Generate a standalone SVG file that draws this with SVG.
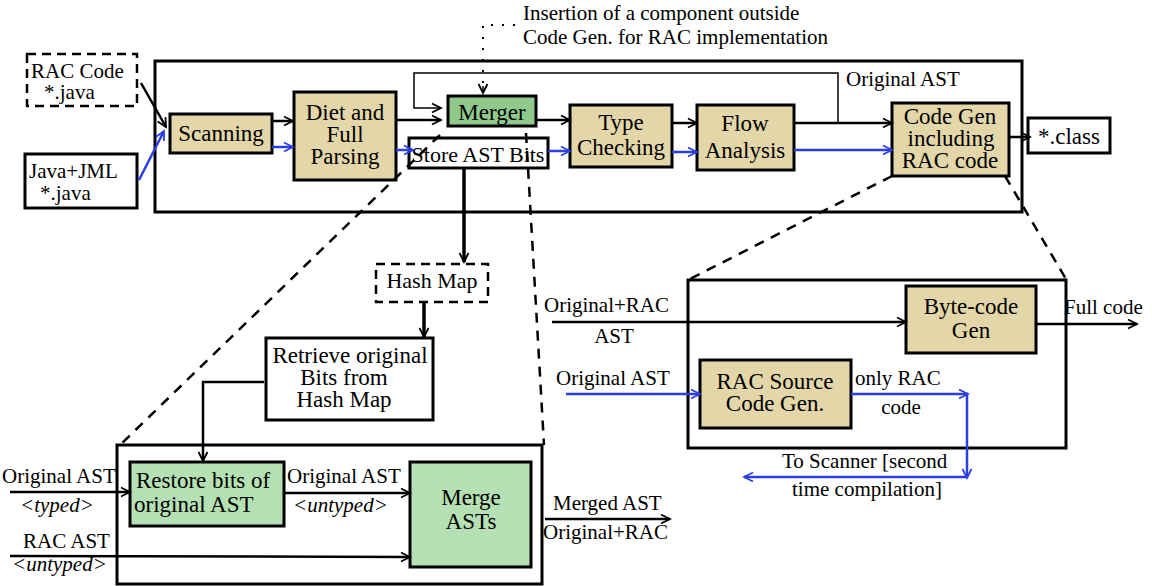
<svg xmlns="http://www.w3.org/2000/svg" width="1152" height="586" viewBox="0 0 1152 586" font-family="'Liberation Serif', 'DejaVu Serif', serif">
<style>
text{font-family:'Liberation Serif','DejaVu Serif',serif;fill:#000}
.n{font-size:23px}
.s{font-size:22px}
.l{font-size:21px}
.i{font-size:21px;font-style:italic}
.m{text-anchor:middle}
.box{fill:#fff;stroke:#000;stroke-width:3}
.tan{fill:#e3d7a9;stroke:#000;stroke-width:3}
.dg{fill:#8fc98b;stroke:#000;stroke-width:3}
.lg{fill:#b4e0b4;stroke:#000;stroke-width:3}
.dbox{fill:#fff;stroke:#000;stroke-width:2.5;stroke-dasharray:9 6}
.c{fill:none;stroke:#000;stroke-width:2.5}
.b{fill:none;stroke:#2b3fe6;stroke-width:2.5}
.thin{fill:none;stroke:#000;stroke-width:1.5}
.dash{fill:none;stroke:#000;stroke-width:2.5;stroke-dasharray:10 8}
.dot{fill:none;stroke:#000;stroke-width:2;stroke-dasharray:2 9}
</style>
<defs>
<marker id="ak" markerUnits="userSpaceOnUse" markerWidth="12" markerHeight="12" refX="10" refY="6" orient="auto"><path d="M1,1.5 L10,6 L1,10.5" fill="none" stroke="#000" stroke-width="1.8"/></marker>
<marker id="ab" markerUnits="userSpaceOnUse" markerWidth="12" markerHeight="12" refX="10" refY="6" orient="auto"><path d="M1,1.5 L10,6 L1,10.5" fill="none" stroke="#2b3fe6" stroke-width="1.8"/></marker>
</defs>
<rect width="1152" height="586" fill="#fff"/>

<g id="outer-top"><rect class="box" x="155" y="61" width="867" height="151"/></g>
<g id="rac-code"><rect class="dbox" x="27" y="54" width="110" height="52"/><text class="l" x="31" y="78">RAC Code</text><text class="l" x="44" y="99">*.java</text></g>
<g id="java-jml"><rect class="box" x="25" y="154" width="112" height="54"/><text class="l" x="29" y="178">Java+JML</text><text class="l" x="40" y="200">*.java</text></g>
<g id="scanning"><rect class="tan" x="170" y="114" width="102" height="39"/><text class="n m" x="221" y="141">Scanning</text></g>
<g id="parsing"><rect class="tan" x="294" y="92" width="102" height="88"/><text class="n m" x="345" y="120">Diet and</text><text class="n m" x="345" y="142">Full</text><text class="n m" x="345" y="164">Parsing</text></g>
<g id="merger"><rect class="dg" x="448" y="96" width="88" height="30"/><text class="n m" x="492" y="120">Merger</text></g>
<g id="store"><rect class="box" x="409" y="138" width="139" height="30"/><text class="s m" x="478" y="162">Store AST Bits</text></g>
<g id="type"><rect class="tan" x="570" y="105" width="102" height="62"/><text class="n m" x="621" y="130">Type</text><text class="n m" x="621" y="155">Checking</text></g>
<g id="flow"><rect class="tan" x="697" y="105" width="97" height="65"/><text class="n m" x="745" y="131">Flow</text><text class="n m" x="745" y="158">Analysis</text></g>
<g id="codegen"><rect class="tan" x="892" y="103" width="117" height="73"/><text class="n m" x="950" y="124">Code Gen</text><text class="n m" x="951" y="146">including</text><text class="n m" x="950" y="168">RAC code</text></g>
<g id="class"><rect class="box" x="1028" y="118" width="82" height="35"/><text class="n m" x="1069" y="144">*.class</text></g>
<g id="note"><text class="l" x="523" y="20">Insertion of a component outside</text><text class="l" x="523" y="44">Code Gen. for RAC implementation</text><text class="l" x="846" y="86">Original AST</text></g>

<g id="hashmap"><rect class="dbox" x="376" y="264" width="112" height="38"/><text class="s m" x="432" y="288">Hash Map</text></g>
<g id="retrieve"><rect class="box" x="266" y="338" width="167" height="82"/><text class="n m" x="350" y="363">Retrieve original</text><text class="n m" x="344" y="385">Bits from</text><text class="n m" x="344" y="407">Hash Map</text></g>

<g id="outer-merge"><rect class="box" x="117" y="445" width="425" height="139"/></g>
<g id="restore"><rect class="lg" x="130" y="462" width="154" height="64"/><text class="n" x="136" y="488">Restore bits of</text><text class="n" x="134" y="512">original AST</text></g>
<g id="mergeasts"><rect class="lg" x="410" y="462" width="121" height="105"/><text class="n m" x="471" y="505">Merge</text><text class="n m" x="471" y="529">ASTs</text></g>
<g id="merge-labels"><text class="l" x="2" y="483">Original AST</text><text class="i" x="20" y="512">&lt;typed&gt;</text><text class="l" x="23" y="548">RAC AST</text><text class="i" x="12" y="571">&lt;untyped&gt;</text><text class="l" x="287" y="483">Original AST</text><text class="i" x="293" y="512">&lt;untyped&gt;</text><text class="l" x="553" y="510">Merged AST</text><text class="l" x="543" y="539">Original+RAC</text></g>

<g id="outer-codegen"><rect class="box" x="688" y="280" width="378" height="168"/></g>
<g id="bytecode"><rect class="tan" x="906" y="286" width="130" height="67"/><text class="n m" x="971" y="314">Byte-code</text><text class="n m" x="971" y="338">Gen</text></g>
<g id="racsource"><rect class="tan" x="700" y="360" width="151" height="68"/><text class="n m" x="775" y="389">RAC Source</text><text class="n m" x="775" y="411">Code Gen.</text></g>
<g id="codegen-labels"><text class="l" x="544" y="312">Original+RAC</text><text class="l m" x="614" y="343">AST</text><text class="l" x="1064" y="314">Full code</text><text class="l" x="556" y="385">Original AST</text><text class="l" x="855" y="385">only RAC</text><text class="l m" x="901" y="414">code</text><text class="l" x="782" y="468">To Scanner [second</text><text class="l" x="792" y="496">time compilation]</text></g>

<g id="connectors">
<path class="c" d="M141,83 L166,127" marker-end="url(#ak)"/>
<path class="b" d="M139,180 L164,131" marker-end="url(#ab)"/>
<path class="c" d="M272,121 L293,121" marker-end="url(#ak)"/>
<path class="b" d="M272,147 L293,147" marker-end="url(#ab)"/>
<path class="c" d="M396,120 L441,120" marker-end="url(#ak)"/>
<path class="b" d="M396,150 L413,150" marker-end="url(#ab)"/>
<path class="c" d="M536,120 L570,120" marker-end="url(#ak)"/>
<path class="b" d="M548,151 L570,151" marker-end="url(#ab)"/>
<path class="c" d="M672,123 L697,123" marker-end="url(#ak)"/>
<path class="b" d="M672,152 L697,152" marker-end="url(#ab)"/>
<path class="c" d="M794,123 L892,123" marker-end="url(#ak)"/>
<path class="b" d="M794,150 L892,150" marker-end="url(#ab)"/>
<path class="c" d="M1009,137 L1030,137" marker-end="url(#ak)"/>
<path class="thin" d="M838,123 L838,73 L414,73 L414,108 L441,108" marker-end="url(#ak)"/>
<path class="dot" d="M515,25 L483,25 L483,93"/>
<path class="thin" d="M483,86 L483,93" marker-end="url(#ak)"/>
<path class="c" style="stroke-width:3.5" d="M464,168 L464,262" marker-end="url(#ak)"/>
<path class="c" style="stroke-width:3.5" d="M424,302 L424,337" marker-end="url(#ak)"/>
<path class="c" d="M264,382 L203,382 L203,461" marker-end="url(#ak)"/>
<path class="c" d="M10,492 L130,492" marker-end="url(#ak)"/>
<path class="c" d="M284,493 L410,493" marker-end="url(#ak)"/>
<path class="c" d="M10,556 L410,557" marker-end="url(#ak)"/>
<path class="c" d="M545,519 L670,519" marker-end="url(#ak)"/>
<path class="c" d="M552,322 L906,322" marker-end="url(#ak)"/>
<path class="c" d="M1036,324 L1137,324" marker-end="url(#ak)"/>
<path class="b" d="M566,394 L700,394" marker-end="url(#ab)"/>
<path class="b" d="M851,394 L968,394" marker-end="url(#ab)"/>
<path class="b" d="M967,394 L967,478" marker-end="url(#ab)"/>
<path class="b" d="M967,477 L744,477" marker-end="url(#ab)"/>
<path class="dash" d="M440,135 L120,445"/>
<path class="dash" d="M526,133 L544,445"/>
<path class="dash" d="M892,176 L690,279"/>
<path class="dash" d="M1005,176 L1066,279"/>
</g>
</svg>
